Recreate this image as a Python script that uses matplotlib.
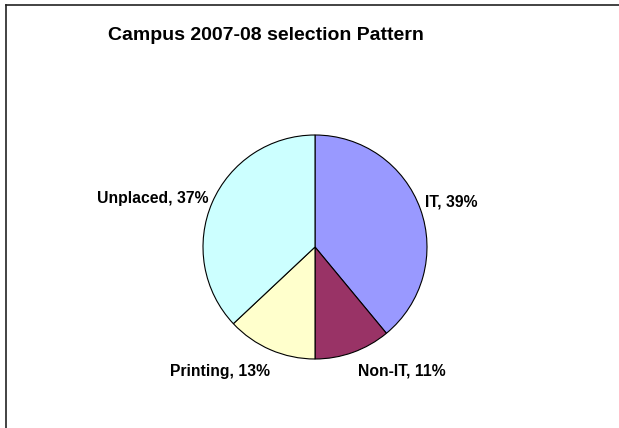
import numpy as np
import matplotlib.pyplot as plt
from matplotlib.lines import Line2D

# Data
categories = ['IT', 'Non-IT', 'Printing', 'Unplaced']
shares = [39, 11, 13, 37]
colors = ['#9999FF', '#993366', '#FFFFCC', '#CCFFFF']

plt.rcParams['font.family'] = ['Liberation Sans', 'DejaVu Sans']

W, H = 619, 428
fig = plt.figure(figsize=(W / 100, H / 100), dpi=100)

# pie centre (315, 247) px from top-left, radius 112 px
cx, cy, r = 315, H - 247, 112
ax = fig.add_axes([(cx - r) / W, (cy - r) / H, 2 * r / W, 2 * r / H])

wedges, _ = ax.pie(shares, colors=colors, startangle=90, counterclock=False,
                   wedgeprops=dict(edgecolor='black', linewidth=0.8))
ax.set_xlim(-1, 1)
ax.set_ylim(-1, 1)
ax.axis('off')

# outside labels near each slice's mid angle (distance, angle nudge in deg)
dists = [1.06, 1.17, 1.18, 1.05]
nudges = [2.5, -0.7, 3.5, -1.2]
for w, cat, val, d, nd in zip(wedges, categories, shares, dists, nudges):
    ang = np.deg2rad((w.theta1 + w.theta2) / 2 + nd)
    x, y = d * np.cos(ang), d * np.sin(ang)
    ax.text(x, y, f'{cat}, {val}%', ha='left' if x > 0 else 'right', va='center',
            fontsize=11.3, fontweight='bold', clip_on=False)

fig.text(266 / W, 1 - 35 / H, 'Campus 2007-08 selection Pattern',
         ha='center', va='center', fontsize=14, fontweight='bold')

# chart frame (only left and top edges visible)
fig.add_artist(Line2D([6 / W, 6 / W], [0, 1 - 5 / H], color='#222222', lw=1.2,
                      transform=fig.transFigure))
fig.add_artist(Line2D([6 / W, 1], [1 - 5 / H, 1 - 5 / H], color='#222222', lw=1.2,
                      transform=fig.transFigure))

fig.savefig('out.png', dpi=100)
